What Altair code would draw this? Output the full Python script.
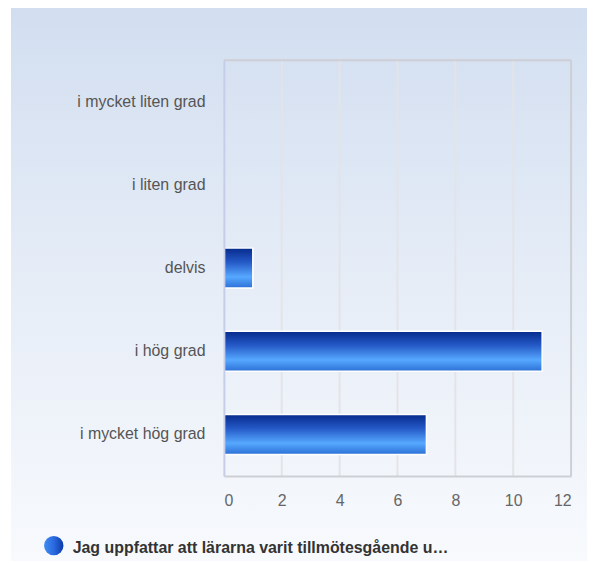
import altair as alt
import pandas as pd

categories = ["i mycket liten grad", "i liten grad", "delvis", "i hög grad", "i mycket hög grad"]
values = [0, 0, 1, 11, 7]
x_ticks = [0, 2, 4, 6, 8, 10, 12]
series_name = "Jag uppfattar att lärarna varit tillmötesgående u…"

W, H = 349, 418
FONT = "Liberation Sans"

df = pd.DataFrame({"cat": categories, "value": values})
grid_df = pd.DataFrame({"t": x_ticks[1:-1]})

bg = alt.Chart(alt.Data(values=[{}])).mark_rect(
    color=alt.Gradient(
        gradient="linear",
        stops=[alt.GradientStop(color="#d2def0", offset=0),
               alt.GradientStop(color="#e6edf7", offset=0.5),
               alt.GradientStop(color="#f8fafd", offset=1)],
        x1=0, x2=0, y1=0, y2=1,
    )
).encode(x=alt.value(-214), x2=alt.value(W + 30), y=alt.value(-53), y2=alt.value(H + 90))

grid = alt.Chart(grid_df).mark_rule(color="#e3e4e8", strokeWidth=2).encode(
    x=alt.X("t:Q", scale=alt.Scale(domain=[0, 12]))
)

top_border = alt.Chart(alt.Data(values=[{}])).mark_rule(color="#cdcfd4", strokeWidth=2).encode(
    x=alt.value(0), x2=alt.value(W), y=alt.value(0)
)
right_border = alt.Chart(alt.Data(values=[{}])).mark_rule(color="#cdcfd4", strokeWidth=2).encode(
    x=alt.value(W), y=alt.value(0), y2=alt.value(H)
)

bars = alt.Chart(df).transform_filter("datum.value > 0").mark_bar(
    color=alt.Gradient(
        gradient="linear",
        stops=[alt.GradientStop(color="#062a8c", offset=0),
               alt.GradientStop(color="#2459c6", offset=0.35),
               alt.GradientStop(color="#56a8ff", offset=0.72),
               alt.GradientStop(color="#2c70d6", offset=1)],
        x1=0, x2=0, y1=0, y2=1,
    ),
    stroke="white", strokeWidth=1.5,
).encode(
    x=alt.X("value:Q", scale=alt.Scale(domain=[0, 12]),
            axis=alt.Axis(values=x_ticks, title=None, grid=False, ticks=False,
                          labelFontSize=16, labelColor="#666666", labelFont=FONT,
                          labelPadding=17, domainColor="#cdcfd4", domainWidth=2, zindex=1)),
    y=alt.Y("cat:N", sort=categories,
            scale=alt.Scale(domain=categories, paddingInner=0.52, paddingOuter=0.26),
            axis=alt.Axis(title=None, grid=False, ticks=False, labelFontSize=16,
                          labelColor="#555555", labelFont=FONT, labelPadding=19,
                          domainColor="#c6cde8", domainWidth=2, zindex=1)),
)

legend_df = pd.DataFrame({"name": [series_name]})
legend_dot = alt.Chart(legend_df).mark_point(
    shape="circle", filled=True, size=380, opacity=1,
    color=alt.Gradient(
        gradient="linear",
        stops=[alt.GradientStop(color="#3f8cf2", offset=0),
               alt.GradientStop(color="#2a6ae0", offset=0.5),
               alt.GradientStop(color="#0b3aa8", offset=1)],
        x1=0, x2=1, y1=0, y2=0,
    ),
).encode(x=alt.value(-171), y=alt.value(488))
legend_text = alt.Chart(legend_df).mark_text(
    align="left", baseline="middle", font=FONT, fontSize=16, fontWeight="bold", color="#333333"
).encode(x=alt.value(-152), y=alt.value(490), text="name:N")

chart = alt.layer(bg, grid, top_border, right_border, bars, legend_dot, legend_text).properties(
    width=W, height=H,
    autosize=alt.AutoSizeParams(type="none"),
    padding={"left": 217, "top": 51, "right": 16, "bottom": 84},
    background="white",
).configure_view(stroke=None)

chart.save("out.html", embed_options={"renderer": "svg", "actions": False})
